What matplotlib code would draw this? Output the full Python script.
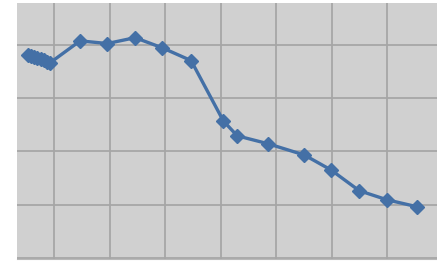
import matplotlib
matplotlib.use("Agg")
import matplotlib.pyplot as plt
from matplotlib.ticker import MultipleLocator

x_vals = [0.53, 0.59, 0.64, 0.69, 0.77, 0.82, 0.87, 0.93, 1.47, 1.96, 2.46, 2.95,
          3.47, 4.05, 4.30, 4.86, 5.51, 5.99, 6.50, 7.00, 7.54]
y_vals = [3.81, 3.79, 3.77, 3.75, 3.73, 3.71, 3.68, 3.66, 4.07, 4.02, 4.13, 3.94,
          3.70, 2.57, 2.29, 2.14, 1.93, 1.65, 1.26, 1.09, 0.96]

fig = plt.figure(figsize=(4.37, 2.62), dpi=100)
ax = fig.add_axes([17/437, 3/262, 420/437, 256/262])
ax.set_facecolor("#d0d0d0")
ax.plot(x_vals, y_vals, color="#4470a6", lw=2.4, marker="D", ms=6.8,
        markerfacecolor="#4470a6", markeredgecolor="#4470a6", zorder=3)
ax.set_xlim(0.333, 7.90)
ax.set_ylim(-0.02, 4.78)
ax.xaxis.set_major_locator(MultipleLocator(1))
ax.yaxis.set_major_locator(MultipleLocator(1))
ax.grid(True, color="#a6a6a6", lw=1.3)
ax.set_axisbelow(True)
ax.tick_params(length=0, labelbottom=False, labelleft=False)
for s in ["top", "right", "left"]:
    ax.spines[s].set_visible(False)
ax.spines["bottom"].set_color("#b8b8b8")
fig.savefig("out.png", dpi=100)
